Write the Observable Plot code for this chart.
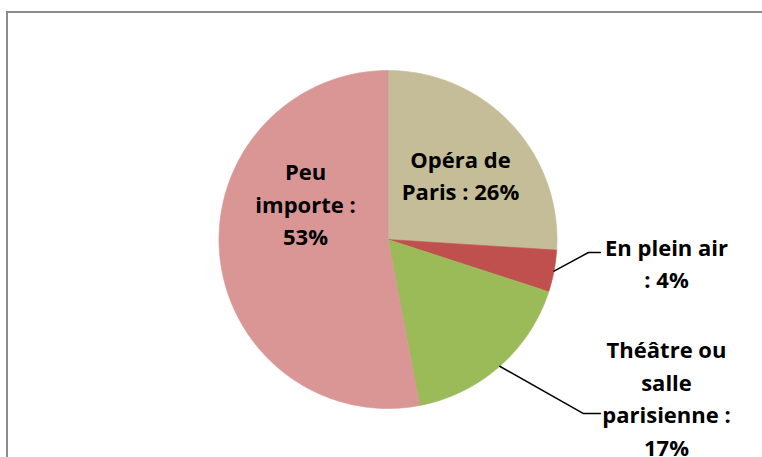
<!DOCTYPE html>
<html>
<head>
<meta charset="utf-8">
<script src="https://cdn.jsdelivr.net/npm/d3@7"></script>
<script src="https://cdn.jsdelivr.net/npm/@observablehq/plot@0.6"></script>
<style>
  html, body { margin: 0; padding: 0; background: #fff; overflow: hidden; }
  #wrap { position: relative; width: 762px; height: 457px; overflow: hidden; }
  #border { position: absolute; left: 6px; top: 11px; width: 820px; height: 520px;
            border-left: 2px solid #8c8c8c; border-top: 2px solid #8c8c8c; pointer-events: none; }
  #chart svg { display: block; }
</style>
</head>
<body>
<div id="wrap"><div id="chart"></div><div id="border"></div></div>
<script>
// ---- data ----
const categories = ["Opéra de Paris", "En plein air", "Théâtre ou salle parisienne", "Peu importe"];
const values = [26, 4, 17, 53];
const labels = ["Opéra de\nParis : 26%", "En plein air\n: 4%", "Théâtre ou\nsalle\nparisienne :\n17%", "Peu\nimporte :\n53%"];
const colors = ["#C4BD97", "#C0504D", "#9BBB59", "#D99694"];

// ---- layout (label anchors in pie-radius units, leader elbows) ----
const labelPos = [
  {x: 0.429, y: 0.391, leader: null},
  {x: 1.648, y: -0.130, leader: {ex: 1.186, ey: -0.077, endX: 1.257}},
  {x: 1.648, y: -0.929, leader: {ex: 1.157, ey: -1.030, endX: 1.257}},
  {x: -0.488, y: 0.219, leader: null}
];

const W = 762, H = 457, cx = 387.5, cy = 239, R = 169;
const total = d3.sum(values);

// wedge polygons from the values
const wedgePts = [];
const mids = [];
let cum = 0;
values.forEach((v, i) => {
  const a0 = cum / total * 2 * Math.PI;
  const a1 = (cum + v) / total * 2 * Math.PI;
  mids.push((a0 + a1) / 2);
  const n = Math.max(2, Math.ceil((a1 - a0) / (Math.PI / 360)));
  wedgePts.push({cat: categories[i], x: 0, y: 0});
  for (let k = 0; k <= n; k++) {
    const a = a0 + (a1 - a0) * k / n;
    wedgePts.push({cat: categories[i], x: Math.sin(a), y: Math.cos(a)});
  }
  wedgePts.push({cat: categories[i], x: 0, y: 0});
  cum += v;
});

const textRows = labels.map((t, i) => ({text: t, x: labelPos[i].x, y: labelPos[i].y}));
const leaderPts = [];
labelPos.forEach((p, i) => {
  if (!p.leader) return;
  leaderPts.push({k: i, x: Math.sin(mids[i]), y: Math.cos(mids[i])});
  leaderPts.push({k: i, x: p.leader.ex, y: p.leader.ey});
  leaderPts.push({k: i, x: p.leader.endX, y: p.leader.ey});
});

const plot = Plot.plot({
  width: W, height: H,
  marginTop: 0, marginRight: 0, marginBottom: 0, marginLeft: 0,
  x: {domain: [-cx / R, (W - cx) / R], axis: null},
  y: {domain: [(cy - H) / R, cy / R], axis: null},
  color: {domain: categories, range: colors},
  marks: [
    Plot.line(wedgePts, {x: "x", y: "y", z: "cat", fill: "cat", stroke: "cat", strokeWidth: 0.6, curve: "linear"}),
    Plot.line(leaderPts, {x: "x", y: "y", z: "k", stroke: "black", strokeWidth: 1.5, curve: "linear"}),
    Plot.text(textRows, {x: "x", y: "y", text: "text", fontSize: 22, fontWeight: "bold",
      fontFamily: "Open Sans", lineHeight: 1.48, textAnchor: "middle", lineAnchor: "middle", fill: "black"})
  ]
});
document.getElementById("chart").appendChild(plot);
</script>
</body>
</html>
